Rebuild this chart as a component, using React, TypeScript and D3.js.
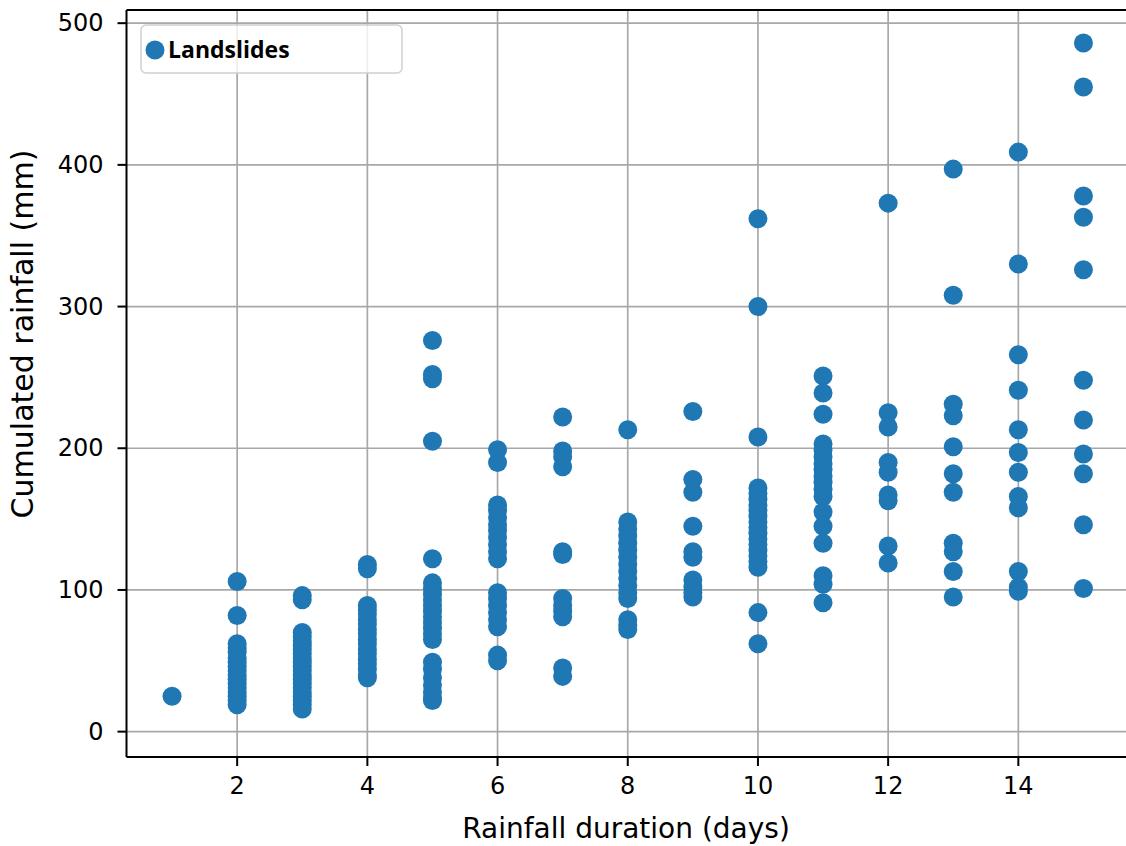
import React from "react";
import * as d3 from "d3";

// cumulated rainfall (mm) read per rainfall duration (days)
const day1 = [25];
const day2 = [106, 82, 62, 59, 56, 52, 49, 46, 43, 40, 37, 34, 31, 28, 25, 22, 19];
const day3 = [96, 93, 70, 67, 64, 61, 58, 55, 52, 49, 46, 43, 40, 37, 34, 31, 28, 25, 22, 19, 16];
const day4 = [118, 115, 89, 86, 83, 79, 76, 72, 69, 65, 62, 58, 55, 51, 48, 44, 40, 38];
const day5 = [276, 252, 249, 205, 122, 105, 101, 97, 93, 89, 85, 81, 77, 73, 69, 65, 49, 44, 38, 33, 28, 24, 22];
const day6 = [199, 190, 160, 156, 151, 146, 142, 137, 132, 127, 122, 98, 94, 89, 84, 79, 74, 54, 50];
const day7 = [222, 198, 194, 187, 127, 125, 94, 89, 85, 81, 45, 39];
const day8 = [213, 148, 143, 138, 133, 128, 123, 118, 113, 108, 103, 98, 94, 79, 75, 72];
const day9 = [226, 178, 169, 145, 127, 123, 107, 102, 98, 95];
const day10 = [362, 300, 208, 172, 168, 164, 160, 156, 152, 148, 144, 140, 136, 132, 128, 124, 120, 116, 84, 62];
const day11 = [251, 239, 224, 203, 199, 194, 189, 185, 180, 176, 171, 166, 155, 145, 133, 110, 104, 91];
const day12 = [373, 225, 215, 190, 183, 167, 163, 131, 119];
const day13 = [397, 308, 231, 223, 201, 182, 169, 133, 127, 113, 95];
const day14 = [409, 330, 266, 241, 213, 197, 183, 166, 158, 113, 102, 99];
const day15 = [486, 455, 378, 363, 326, 248, 220, 196, 182, 146, 101];

const columns = [day1, day2, day3, day4, day5, day6, day7, day8, day9, day10, day11, day12, day13, day14, day15];
const xTicks = [2, 4, 6, 8, 10, 12, 14];
const yTicks = [0, 100, 200, 300, 400, 500];
const seriesName = "Landslides";

const W = 1126, H = 846;
const plot = { left: 126.5, right: 1129, top: 10, bottom: 757 };
const blue = "#1f77b4";
const tickFont = "DejaVu Sans, sans-serif";

export default function App() {
    const x = d3.scaleLinear().domain([0.3, 15.7]).range([plot.left, plot.right]);
    const y = d3.scaleLinear().domain([-17.9, 509.3]).range([plot.bottom, plot.top]);

    const points = columns.flatMap((vals, i) => vals.map(v => ({ day: i + 1, rain: v })));

    return (
        <svg width={W} height={H} style={{ position: "absolute", left: 0, top: 0, background: "#fff" }}>
            <rect width={W} height={H} fill="#fff" />
            {/* grid */}
            <g stroke="#a8a8a8" strokeWidth={1.7}>
                {xTicks.map(t => <line key={"gx" + t} x1={x(t)} x2={x(t)} y1={plot.top} y2={plot.bottom} />)}
                {yTicks.map(t => <line key={"gy" + t} x1={plot.left} x2={plot.right} y1={y(t)} y2={y(t)} />)}
            </g>

            {/* points */}
            <g fill={blue}>
                {points.map((p, i) => <circle key={i} cx={x(p.day)} cy={y(p.rain)} r={9.5} />)}
            </g>

            {/* spines */}
            <g stroke="#000" strokeWidth={2} fill="none">
                <line x1={plot.left} x2={plot.left} y1={plot.top} y2={plot.bottom} />
                <line x1={plot.left} x2={plot.right} y1={plot.bottom} y2={plot.bottom} />
                <line x1={plot.left} x2={plot.right} y1={plot.top} y2={plot.top} />
                <line x1={plot.right} x2={plot.right} y1={plot.top} y2={plot.bottom} />
            </g>

            {/* ticks */}
            <g fontFamily={tickFont} fontSize={24} fill="#000">
                {yTicks.map(t => (
                    <g key={"ty" + t}>
                        <line x1={plot.left - 9} x2={plot.left} y1={y(t)} y2={y(t)} stroke="#000" strokeWidth={2} />
                        <text x={plot.left - 23} y={y(t)} textAnchor="end" dominantBaseline="central">{t}</text>
                    </g>
                ))}
                {xTicks.map(t => (
                    <g key={"tx" + t}>
                        <line x1={x(t)} x2={x(t)} y1={plot.bottom} y2={plot.bottom + 9} stroke="#000" strokeWidth={2} />
                        <text x={x(t)} y={plot.bottom + 29} textAnchor="middle" dominantBaseline="central">{t}</text>
                    </g>
                ))}
            </g>

            {/* axis labels */}
            <text x={626} y={838} textAnchor="middle" fontFamily={tickFont} fontSize={28}>Rainfall duration (days)</text>
            <text transform={`translate(33,334) rotate(-90)`} textAnchor="middle"
                fontFamily={tickFont} fontSize={30}>Cumulated rainfall (mm)</text>

            {/* legend */}
            <g>
                <rect x={141} y={25} width={261} height={48} rx={5} fill="#fff" fillOpacity={0.8} stroke="#d0d0d0" strokeWidth={1.5} />
                <circle cx={155} cy={50} r={9.5} fill={blue} />
                <text x={168} y={58} fontFamily="Open Sans, sans-serif" fontWeight="bold" fontSize={23}>{seriesName}</text>
            </g>
        </svg>
    );
}
